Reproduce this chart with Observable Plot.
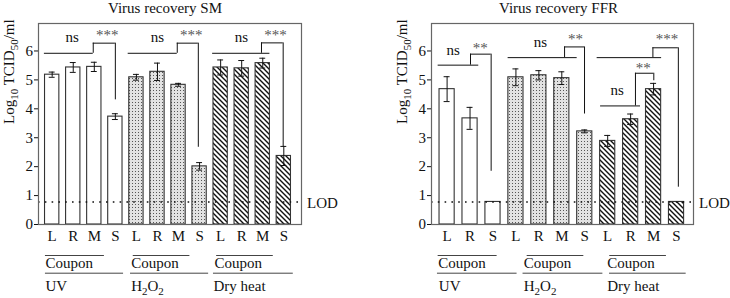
<!DOCTYPE html>
<html><head><meta charset="utf-8">
<script src="https://cdn.jsdelivr.net/npm/d3@7"></script>
<script src="https://cdn.jsdelivr.net/npm/@observablehq/plot@0.6"></script>
<style>
html,body{margin:0;padding:0;background:#fff;}
#wrap{display:flex;width:730px;height:298px;overflow:hidden;}
#wrap svg{display:block;flex:none;font-family:"Liberation Serif","Times New Roman",serif !important;}
#wrap svg text{font-family:"Liberation Serif","Times New Roman",serif !important;}
</style></head><body><div id="wrap"></div>
<script>
// ---- data ----
const yTicks = [0, 1, 2, 3, 4, 5, 6];
const LOD = 0.78;
const groupNames = ["UV", "H2O2", "Dry heat"];
const couponLabel = "Coupon";
const yLabel = "Log10 TCID50/ml";

const titleSM = "Virus recovery SM";
const catsSM = ["L", "R", "M", "S", "L", "R", "M", "S", "L", "R", "M", "S"];
const groupSM = [0, 0, 0, 0, 1, 1, 1, 1, 2, 2, 2, 2];
const valSM = [5.18, 5.43, 5.45, 3.73, 5.09, 5.28, 4.83, 2.01, 5.43, 5.40, 5.58, 2.37];
const errSM = [0.09, 0.17, 0.16, 0.10, 0.10, 0.30, 0.05, 0.13, 0.26, 0.27, 0.17, 0.33];
const sigTextSM = ["ns", "***", "ns", "***", "ns", "***"];

const titleFFR = "Virus recovery FFR";
const catsFFR = ["L", "R", "S", "L", "R", "M", "S", "L", "R", "M", "S"];
const groupFFR = [0, 0, 0, 1, 1, 1, 1, 2, 2, 2, 2];
const valFFR = [4.68, 3.67, 0.78, 5.09, 5.16, 5.06, 3.22, 2.89, 3.64, 4.68, 0.78];
const errFFR = [0.43, 0.38, 0, 0.29, 0.16, 0.22, 0.05, 0.19, 0.18, 0.20, 0];
const sigTextFFR = ["ns", "**", "ns", "**", "***", "ns", "**"];

// ---- layout (positions in bar-index / value units) ----
const layoutSM = {
  marginLeft: 38, marginRight: 64, xDomain: [-0.65, 11.84], half: 0.34, cap: 0.14, titleDx: -5,
  brackets: [
    {xa: -0.37, xb: 1.95, yl: 5.92, xv: 1.95, yt: 6.27, xe: 3.0, ye: 4.31},
    {xa: 3.61, xb: 5.94, yl: 5.92, xv: 5.94, yt: 6.27, xe: 6.94, ye: 2.67},
    {xa: 7.62, xb: 10.34, yl: 5.92, xv: 9.94, yt: 6.28, xe: 10.97, ye: 2.69}
  ],
  sigPos: [[0.95, 6.48], [2.61, 6.54], [5.0, 6.48], [6.6, 6.54], [8.99, 6.48], [10.61, 6.54]],
  coupon: [[-0.32, 2.48], [3.85, 6.54], [7.81, 10.5]],
  groupLine: [[-0.32, 3.39], [3.72, 7.43], [7.66, 11.45]],
  couponText: [-0.32, 3.75, 7.71],
  groupText: [-0.32, 3.75, 7.66]
};
const layoutFFR = {
  marginLeft: 66, marginRight: 37, xDomain: [-0.68, 10.74], half: 0.33, cap: 0.13, titleDx: -4,
  brackets: [
    {xa: -0.39, xb: 1.38, yl: 5.51, xv: 1.02, yt: 5.89, xe: 1.92, ye: 1.84},
    {xa: 2.66, xb: 5.67, yl: 5.77, xv: 5.12, yt: 6.14, xe: 5.99, ye: 3.82},
    {xa: 6.54, xb: 9.35, yl: 5.77, xv: 8.97, yt: 6.11, xe: 10.08, ye: 1.29},
    {xa: 6.69, xb: 8.43, yl: 4.10, xv: 8.21, yt: 5.23, xe: 9.01, ye: 4.97}
  ],
  sigPos: [[0.27, 6.03], [1.45, 6.11], [4.07, 6.29], [5.6, 6.40], [9.59, 6.41], [7.41, 4.63], [8.55, 5.40]],
  coupon: [[-0.39, 2.18], [3.49, 5.96], [7.09, 9.56]],
  groupLine: [[-0.42, 3.05], [3.31, 6.79], [7.08, 10.42]],
  couponText: [-0.39, 3.34, 6.98],
  groupText: [-0.36, 3.34, 6.98]
};

const FONT = "Liberation Serif";
let uid = 0;

function panel(title, cats, groups, vals, errs, sigText, L) {
  const id = "p" + (uid++);
  const data = cats.map((c, i) => ({i, c, g: groups[i], v: vals[i], e: errs[i]}));
  const withErr = data.filter(d => d.e > 0);
  const sig = sigText.map((t, k) => ({t, x: L.sigPos[k][0], y: L.sigPos[k][1], star: t.startsWith("*")}));
  const groupsData = groupNames.map((name, g) => ({
    name, c1: L.coupon[g][0], c2: L.coupon[g][1], g1: L.groupLine[g][0], g2: L.groupLine[g][1],
    ct: L.couponText[g], gt: L.groupText[g]
  }));
  const fills = ["white", `url(#${id}-dots)`, `url(#${id}-hatch)`];
  const zero = () => 0;
  const ink = "#111";
  const T = {fontSize: 15, fontFamily: FONT, fill: "#111"};
  const marks = [];
  fills.forEach((f, g) => {
    marks.push(Plot.rectY(data, {filter: d => d.g === g, x1: d => d.i - L.half, x2: d => d.i + L.half, y1: zero, y2: "v", fill: f, stroke: "#333", strokeWidth: 1.1}));
  });
  marks.push(
    Plot.ruleY([LOD], {y: d => d, stroke: "#111", strokeWidth: 1.6, strokeDasharray: "1.6,5.2"}),
    Plot.ruleX(withErr, {x: "i", y1: d => d.v - d.e, y2: d => d.v + d.e, stroke: ink, strokeWidth: 1}),
    Plot.ruleY(withErr, {y: d => d.v - d.e, x1: d => d.i - L.cap, x2: d => d.i + L.cap, stroke: ink, strokeWidth: 1}),
    Plot.ruleY(withErr, {y: d => d.v + d.e, x1: d => d.i - L.cap, x2: d => d.i + L.cap, stroke: ink, strokeWidth: 1}),
    Plot.frame({stroke: "#666", strokeWidth: 1.2}),
    // brackets
    Plot.ruleY(L.brackets, {y: "yl", x1: "xa", x2: "xb", stroke: ink, strokeWidth: 1}),
    Plot.ruleX(L.brackets, {x: "xv", y1: "yl", y2: "yt", stroke: ink, strokeWidth: 1}),
    Plot.ruleY(L.brackets, {y: "yt", x1: "xv", x2: "xe", stroke: ink, strokeWidth: 1}),
    Plot.ruleX(L.brackets, {x: "xe", y1: "ye", y2: "yt", stroke: ink, strokeWidth: 1}),
    Plot.text(sig.filter(d => !d.star), {x: "x", y: "y", text: "t", ...T}),
    Plot.text(sig.filter(d => d.star), {x: "x", y: "y", text: "t", ...T, fill: "#555"}),
    // LOD label
    Plot.text([LOD], {y: d => d, text: () => "LOD", frameAnchor: "right", textAnchor: "start", dx: 5.5, dy: 1, ...T}),
    // title
    Plot.text([title], {frameAnchor: "top", text: d => d, lineAnchor: "bottom", dy: -10.3, dx: L.titleDx, ...T}),
    // y label
    Plot.text([yLabel], {frameAnchor: "left", text: d => d, rotate: -90, dx: -29.5, ...T}),
    // x category labels
    Plot.text(data, {x: "i", y: zero, text: "c", lineAnchor: "bottom", dy: 16.7, ...T}),
    // coupon overlines and labels
    Plot.ruleY(groupsData, {y: zero, x1: "c1", x2: "c2", dy: 31, stroke: "#444", strokeWidth: 1}),
    Plot.text(groupsData, {x: "ct", y: zero, text: () => couponLabel, textAnchor: "start", lineAnchor: "bottom", dy: 43.3, ...T}),
    Plot.ruleY(groupsData, {y: zero, x1: "g1", x2: "g2", dy: 48.7, stroke: "#444", strokeWidth: 1}),
    Plot.text(groupsData, {x: "gt", y: zero, text: "name", textAnchor: "start", lineAnchor: "bottom", dy: 66, ...T})
  );
  const svg = Plot.plot({
    width: 365, height: 298,
    marginLeft: L.marginLeft, marginRight: L.marginRight, marginTop: 23, marginBottom: 74,
    x: {domain: L.xDomain, axis: null},
    y: {domain: [0, 6.95], ticks: yTicks, tickSize: 4, tickPadding: 1.5, label: null, tickFormat: d3.format("d")},
    style: {fontFamily: FONT, fontSize: "15px", color: "#111", background: "white", overflow: "visible"},
    marks
  });
  const s = d3.select(svg);
  s.attr("font-family", FONT).attr("font-size", 15);
  const defs = s.insert("defs", ":first-child");
  const dots = defs.append("pattern").attr("id", id + "-dots").attr("patternUnits", "userSpaceOnUse").attr("width", 3).attr("height", 3);
  dots.append("rect").attr("width", 3).attr("height", 3).attr("fill", "#e2e2e2");
  dots.append("rect").attr("width", 1).attr("height", 1).attr("fill", "#555");
  const hatch = defs.append("pattern").attr("id", id + "-hatch").attr("patternUnits", "userSpaceOnUse").attr("width", 5).attr("height", 5);
  hatch.append("rect").attr("width", 5).attr("height", 5).attr("fill", "white");
  hatch.append("path").attr("d", "M-1,-1L6,6M-1,4L1,6M4,-1L6,1").attr("stroke", "#111").attr("stroke-width", 1.4);
  // subscripts
  s.selectAll("text").each(function () {
    const t = d3.select(this);
    const txt = this.textContent;
    const parts = txt === yLabel ? [["Log", 0], ["10", 1], [" TCID", 0], ["50", 1], ["/ml", 0]]
      : txt === "H2O2" ? [["H", 0], ["2", 1], ["O", 0], ["2", 1]] : null;
    if (!parts) return;
    t.text(null);
    let sub = 0;
    for (const [p, isSub] of parts) {
      const sp = t.append("tspan").text(p);
      const dy = isSub - sub;
      if (dy) sp.attr("dy", dy * 4.5);
      if (isSub) sp.attr("font-size", 11);
      sub = isSub;
    }
  });
  return svg;
}

const wrap = document.getElementById("wrap");
wrap.appendChild(panel(titleSM, catsSM, groupSM, valSM, errSM, sigTextSM, layoutSM));
wrap.appendChild(panel(titleFFR, catsFFR, groupFFR, valFFR, errFFR, sigTextFFR, layoutFFR));
</script>
</body></html>
